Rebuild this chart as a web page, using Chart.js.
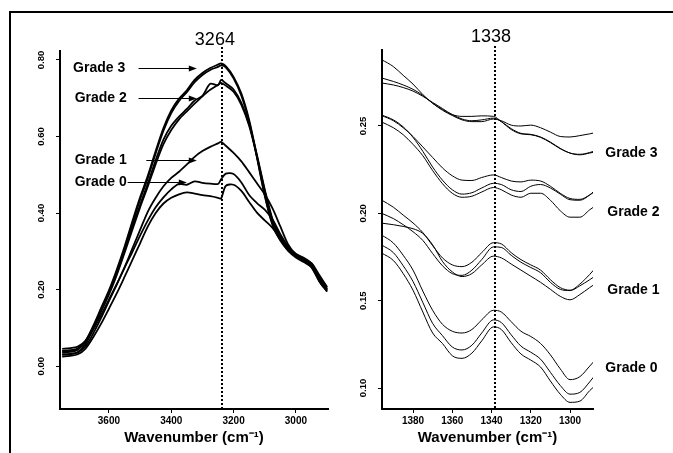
<!DOCTYPE html>
<html>
<head>
<meta charset="utf-8">
<script src="https://cdn.jsdelivr.net/npm/chart.js@4.4.1/dist/chart.umd.min.js"></script>
<style>
    html, body { margin: 0; padding: 0; background: #fff; }
    #page { position: relative; width: 673px; height: 453px; overflow: hidden; }
    #frame { position: absolute; left: 9px; top: 11px; width: 700px; height: 500px; border-top: 2px solid #000; border-left: 2px solid #000; }
    canvas { position: absolute; top: 0; }
    #ohChart { left: 0; }
    #cnChart { left: 336px; }
</style>
</head>
<body>
<div id="page">
    <div id="frame"></div>
    <canvas id="ohChart" width="336" height="453"></canvas>
    <canvas id="cnChart" width="337" height="453"></canvas>
</div>
<script>
// Left panel: O-H stretch band
const ohWavenumbers = [3750, 3725, 3700, 3675, 3650, 3625, 3600, 3575, 3550, 3525, 3500, 3475, 3450, 3425, 3400, 3375, 3350, 3325, 3300, 3275, 3250, 3240, 3225, 3200, 3175, 3150, 3125, 3100, 3075, 3050, 3025, 3000, 2975, 2950, 2925, 2900];
const ohGrade3a = [.035, .037, .043, .066, .106, .152, .198, .252, .312, .378, .441, .498, .562, .622, .668, .699, .721, .748, .766, .779, .788, .791, .784, .756, .712, .643, .548, .448, .372, .332, .306, .291, .279, .262, .226, .198];
const ohGrade3b = [.030, .031, .036, .058, .098, .146, .193, .247, .306, .371, .435, .492, .556, .615, .661, .693, .716, .742, .761, .774, .782, .786, .781, .752, .707, .638, .545, .445, .368, .328, .302, .287, .276, .258, .222, .195];
const ohGrade2a = [.040, .042, .046, .066, .103, .148, .192, .243, .301, .362, .421, .478, .538, .592, .628, .652, .672, .694, .706, .738, .734, .748, .739, .723, .688, .632, .552, .462, .384, .338, .310, .293, .283, .268, .233, .205];
const ohGrade2b = [.038, .039, .044, .063, .099, .143, .187, .238, .296, .356, .415, .470, .528, .580, .617, .645, .666, .686, .705, .722, .735, .740, .733, .717, .683, .628, .548, .458, .380, .335, .307, .290, .281, .266, .230, .201];
const ohGrade1 = [.030, .032, .036, .052, .086, .126, .170, .213, .258, .307, .356, .404, .440, .470, .492, .508, .527, .547, .562, .573, .582, .586, .576, .557, .535, .507, .478, .449, .412, .365, .318, .292, .278, .262, .228, .200];
const ohGrade0a = [.045, .047, .051, .066, .096, .134, .174, .214, .257, .298, .341, .381, .415, .441, .462, .476, .474, .483, .479, .477, .476, .488, .503, .502, .480, .447, .426, .409, .383, .345, .312, .293, .281, .269, .238, .207];
const ohGrade0b = [.025, .027, .031, .046, .076, .111, .150, .190, .233, .277, .321, .365, .400, .425, .440, .449, .454, .451, .447, .444, .440, .438, .471, .474, .458, .429, .401, .381, .361, .331, .302, .284, .272, .259, .222, .195];
const ohXTicks = [3600, 3400, 3200, 3000];
const ohYTicks = [0, 0.2, 0.4, 0.6, 0.8];
const ohPeakText = '3264';
const ohPeakLine = 3238;

// Right panel: 1338 band
const cnWavenumbers = [1396, 1390, 1385, 1380, 1375, 1370, 1365, 1360, 1355, 1350, 1345, 1339, 1335, 1330, 1325, 1320, 1315, 1310, 1305, 1300, 1295, 1290, 1288];
const cnGrade3a = [.288, .284, .279, .274, .268, .263, .259, .256, .2535, .2525, .2525, .254, .253, .2505, .25, .2505, .249, .2465, .244, .2437, .2445, .2455, .246];
const cnGrade3b = [.2775, .2755, .2735, .271, .2675, .263, .2595, .2565, .2555, .2555, .2558, .2555, .2525, .248, .2455, .245, .2435, .2405, .237, .2345, .2335, .2345, .235];
const cnGrade3c = [.2746, .2735, .272, .27, .267, .2635, .26, .2565, .254, .253, .2535, .2545, .2525, .2485, .2458, .2452, .2437, .2408, .2372, .2345, .2338, .2348, .2355];
const cnGrade2a = [.256, .253, .249, .244, .238, .232, .226, .2215, .219, .2188, .2205, .222, .2205, .2185, .218, .219, .2185, .2155, .2115, .2085, .208, .2105, .212];
const cnGrade2b = [.2563, .2535, .2495, .2435, .2355, .2265, .219, .2135, .211, .2118, .2145, .2172, .2165, .2135, .2125, .2155, .2165, .2145, .211, .2078, .2075, .2105, .2125];
const cnGrade2c = [.2523, .249, .245, .2395, .233, .2245, .217, .2115, .2092, .2098, .2122, .2148, .2135, .2105, .2092, .2115, .2115, .2075, .2015, .1978, .1978, .202, .2036];
const cnGrade1a = [.2076, .2035, .199, .1945, .189, .1815, .1745, .1705, .1695, .172, .1775, .1832, .1825, .1775, .1735, .1705, .1675, .162, .1575, .156, .1595, .165, .1675];
const cnGrade1b = [.200, .197, .1935, .1895, .1845, .177, .170, .1655, .1645, .1675, .1735, .1808, .1805, .176, .172, .169, .166, .1605, .1565, .1558, .1585, .162, .1635];
const cnGrade1c = [.1944, .1935, .1925, .1912, .1885, .182, .1725, .1665, .1638, .1655, .1705, .1755, .1745, .171, .1675, .164, .1605, .1565, .1525, .1505, .1535, .1575, .159];
const cnGrade0a = [.1876, .183, .176, .1675, .1555, .1445, .1365, .1325, .1315, .1335, .139, .1445, .1435, .138, .1325, .1295, .1255, .119, .111, .1048, .1065, .1125, .115];
const cnGrade0b = [.1819, .1775, .17, .161, .149, .137, .13, .1235, .1218, .1245, .1315, .139, .1375, .1305, .124, .1205, .1165, .109, .1015, .0965, .0975, .1035, .1063];
const cnGrade0c = [.1773, .173, .1655, .156, .1435, .1315, .1255, .1185, .117, .12, .127, .135, .1335, .126, .1195, .116, .112, .104, .0965, .0918, .0925, .0985, .1006];
const cnXTicks = [1380, 1360, 1340, 1320, 1300];
const cnYTicks = [0.10, 0.15, 0.20, 0.25];
const cnPeakText = '1338';
const cnPeakLine = 1338;

const gradeNames = ['Grade 3', 'Grade 2', 'Grade 1', 'Grade 0'];

const FONT = 'Arial, "Liberation Sans", Helvetica, sans-serif';

// Turn x/y arrays into {x, y} points
function toPoints(xs, ys) {
    return xs.map((x, i) => ({ x: x, y: ys[i] }));
}

// Dotted peak marker, peak label, grade labels and arrows
const notesPlugin = {
    id: 'notes',
    afterDatasetsDraw(chart, args, opts) {
        const ctx = chart.ctx;
        const area = chart.chartArea;
        const xs = chart.scales.x;
        const ys = chart.scales.y;
        ctx.save();
        ctx.strokeStyle = '#000';
        ctx.fillStyle = '#000';

        const lx = Math.round(xs.getPixelForValue(opts.line));
        ctx.lineWidth = 2;
        ctx.setLineDash([2, 2]);
        ctx.beginPath();
        ctx.moveTo(lx, area.top - 4);
        ctx.lineTo(lx, area.bottom);
        ctx.stroke();
        ctx.setLineDash([]);

        ctx.font = '18px ' + FONT;
        ctx.textAlign = 'center';
        ctx.textBaseline = 'middle';
        ctx.fillText(opts.peakText, xs.getPixelForValue(opts.peakAt[0]), ys.getPixelForValue(opts.peakAt[1]));

        ctx.font = 'bold 14px ' + FONT;
        ctx.textAlign = 'left';
        ctx.lineWidth = 1;
        opts.labels.forEach((lab, i) => {
            const ty = Math.round(ys.getPixelForValue(lab.y)) + 0.5;
            ctx.fillText(gradeNames[i], xs.getPixelForValue(lab.x), ty);
            if (lab.from !== undefined) {
                const x0 = xs.getPixelForValue(lab.from);
                const x1 = xs.getPixelForValue(lab.to);
                ctx.beginPath();
                ctx.moveTo(x0, ty);
                ctx.lineTo(x1 - 6, ty);
                ctx.stroke();
                ctx.beginPath();
                ctx.moveTo(x1, ty);
                ctx.lineTo(x1 - 8, ty - 3);
                ctx.lineTo(x1 - 8, ty + 3);
                ctx.closePath();
                ctx.fill();
            }
        });
        ctx.restore();
    }
};

function axisOptions(min, max, tickValues, reverse, isX, fitSize) {
    return {
        type: 'linear',
        min: min,
        max: max,
        reverse: reverse,
        afterBuildTicks: (scale) => { scale.ticks = tickValues.map(v => ({ value: v })); },
        afterFit: (scale) => { if (isX) { scale.height = fitSize; } else { scale.width = fitSize; } },
        grid: { drawOnChartArea: false, drawTicks: true, tickLength: 4, color: '#000', lineWidth: 1 },
        border: { display: true, color: '#000', width: 2 },
        ticks: isX ? {
            color: '#000',
            font: { family: FONT, size: 10, weight: 'bold' },
            padding: 2,
            autoSkip: false,
            maxRotation: 0,
            callback: (v) => String(v)
        } : {
            color: '#000',
            font: { family: FONT, size: 9.5, weight: 'bold' },
            padding: 5,
            autoSkip: false,
            minRotation: 90,
            maxRotation: 90,
            crossAlign: 'center',
            callback: (v) => v.toFixed(2)
        },
        title: isX ? {
            display: true,
            text: 'Wavenumber (cm\u207B\u00B9)',
            color: '#000',
            font: { family: FONT, size: 15, weight: 'bold' },
            padding: { top: 0, bottom: 6 }
        } : { display: false }
    };
}

function lineSet(xs, ys, width, smooth) {
    return {
        data: toPoints(xs, ys),
        borderColor: '#000',
        borderWidth: width,
        pointRadius: 0,
        fill: false,
        tension: smooth ? 0 : 0.3,
        cubicInterpolationMode: smooth ? 'monotone' : 'default'
    };
}

// Left chart
new Chart(document.getElementById('ohChart').getContext('2d'), {
    type: 'line',
    data: {
        datasets: [ohGrade3a, ohGrade3b, ohGrade2a, ohGrade2b, ohGrade1, ohGrade0a, ohGrade0b]
            .map(s => lineSet(ohWavenumbers, s, 1.8, false))
    },
    options: {
        responsive: false,
        animation: false,
        devicePixelRatio: 1,
        layout: { padding: { top: 51, right: 8, left: 0, bottom: 0 } },
        scales: {
            x: axisOptions(2897, 3757, ohXTicks, true, true, 44),
            y: axisOptions(-0.112, 0.8235, ohYTicks, false, false, 60)
        },
        plugins: {
            legend: { display: false },
            tooltip: { enabled: false },
            notes: {
                line: ohPeakLine,
                peakText: ohPeakText,
                peakAt: [3260, 0.852],
                labels: [
                    { x: 3715, y: 0.779, from: 3505, to: 3318 },
                    { x: 3710, y: 0.700, from: 3505, to: 3318 },
                    { x: 3710, y: 0.539, from: 3480, to: 3318 },
                    { x: 3710, y: 0.481, from: 3540, to: 3350 }
                ]
            }
        }
    },
    plugins: [notesPlugin]
});

// Right chart
new Chart(document.getElementById('cnChart').getContext('2d'), {
    type: 'line',
    data: {
        datasets: [cnGrade3a, cnGrade3b, cnGrade3c, cnGrade2a, cnGrade2b, cnGrade2c,
                   cnGrade1a, cnGrade1b, cnGrade1c, cnGrade0a, cnGrade0b, cnGrade0c]
            .map(s => lineSet(cnWavenumbers, s, 1, true))
    },
    options: {
        responsive: false,
        animation: false,
        devicePixelRatio: 1,
        layout: { padding: { top: 50, right: 80, left: 0, bottom: 0 } },
        scales: {
            x: axisOptions(1288.3, 1395.8, cnXTicks, true, true, 44),
            y: axisOptions(0.088, 0.2935, cnYTicks, false, false, 46)
        },
        plugins: {
            legend: { display: false },
            tooltip: { enabled: false },
            notes: {
                line: cnPeakLine,
                peakText: cnPeakText,
                peakAt: [1340.3, 0.301],
                labels: [
                    { x: 1282, y: 0.2345 },
                    { x: 1281, y: 0.2007 },
                    { x: 1281, y: 0.156 },
                    { x: 1282, y: 0.1114 }
                ]
            }
        }
    },
    plugins: [notesPlugin]
});
</script>
</body>
</html>
